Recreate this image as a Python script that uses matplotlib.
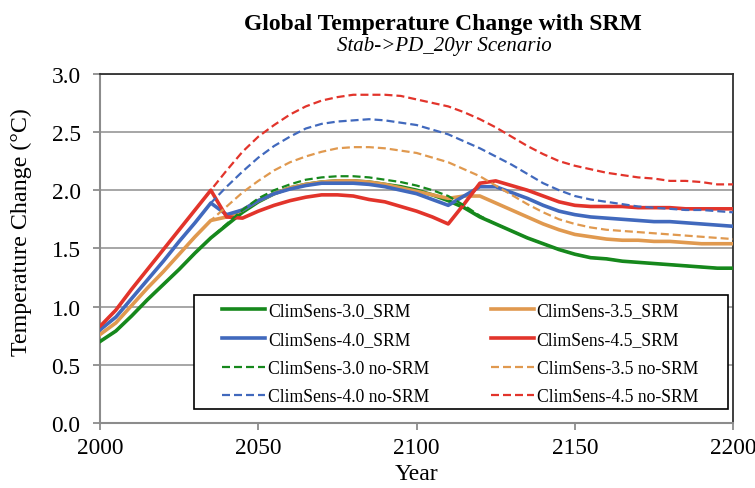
"""Global temperature change with SRM, Stab->PD_20yr scenario."""

import matplotlib

matplotlib.use("Agg")
import matplotlib.pyplot as plt
import numpy as np
from matplotlib.patches import Rectangle

plt.rcParams["font.family"] = ["Liberation Serif", "DejaVu Serif"]

years = np.arange(2000, 2201, 5)

cs30_srm = [0.70, 0.79, 0.92, 1.06, 1.19, 1.32, 1.46, 1.59, 1.70, 1.81,
            1.90, 1.97, 2.02, 2.05, 2.07, 2.08, 2.08, 2.07, 2.05, 2.03,
            2.00, 1.96, 1.91, 1.85, 1.77, 1.71, 1.65, 1.59, 1.54, 1.49,
            1.45, 1.42, 1.41, 1.39, 1.38, 1.37, 1.36, 1.35, 1.34, 1.33, 1.33]
cs35_srm = [0.76, 0.86, 1.01, 1.16, 1.30, 1.45, 1.60, 1.74, 1.77, 1.83,
            1.91, 1.97, 2.02, 2.05, 2.07, 2.08, 2.08, 2.07, 2.05, 2.02,
            1.99, 1.96, 1.93, 1.95, 1.95, 1.89, 1.83, 1.77, 1.71, 1.66,
            1.62, 1.60, 1.58, 1.57, 1.57, 1.56, 1.56, 1.55, 1.54, 1.54, 1.54]
cs40_srm = [0.80, 0.91, 1.07, 1.23, 1.39, 1.56, 1.72, 1.89, 1.79, 1.83,
            1.91, 1.97, 2.01, 2.04, 2.06, 2.06, 2.06, 2.05, 2.03, 2.00,
            1.97, 1.92, 1.87, 1.95, 2.03, 2.03, 1.98, 1.93, 1.87, 1.82,
            1.79, 1.77, 1.76, 1.75, 1.74, 1.73, 1.73, 1.72, 1.71, 1.70, 1.69]
cs45_srm = [0.83, 0.97, 1.15, 1.32, 1.49, 1.66, 1.83, 2.00, 1.77, 1.76,
            1.82, 1.87, 1.91, 1.94, 1.96, 1.96, 1.95, 1.92, 1.90, 1.86,
            1.82, 1.77, 1.71, 1.88, 2.06, 2.08, 2.04, 2.00, 1.95, 1.90,
            1.87, 1.86, 1.86, 1.86, 1.85, 1.85, 1.85, 1.84, 1.84, 1.84, 1.84]

cs30_nosrm = [0.70, 0.79, 0.92, 1.06, 1.19, 1.32, 1.46, 1.59, 1.71, 1.83,
              1.93, 2.00, 2.05, 2.09, 2.11, 2.12, 2.12, 2.11, 2.09, 2.07,
              2.04, 2.00, 1.95, 1.87, 1.78, 1.71, 1.65, 1.59, 1.54, 1.49,
              1.45, 1.42, 1.41, 1.39, 1.38, 1.37, 1.36, 1.35, 1.34, 1.33, 1.33]
cs35_nosrm = [0.76, 0.86, 1.01, 1.16, 1.30, 1.45, 1.60, 1.74, 1.86, 1.98,
              2.08, 2.17, 2.24, 2.29, 2.33, 2.36, 2.37, 2.37, 2.36, 2.34,
              2.32, 2.28, 2.24, 2.18, 2.12, 2.04, 1.96, 1.88, 1.81, 1.75,
              1.71, 1.68, 1.66, 1.65, 1.64, 1.63, 1.62, 1.61, 1.60, 1.59, 1.58]
cs40_nosrm = [0.80, 0.91, 1.07, 1.23, 1.39, 1.56, 1.72, 1.89, 2.03, 2.16,
              2.28, 2.38, 2.46, 2.53, 2.57, 2.59, 2.60, 2.61, 2.60, 2.58,
              2.56, 2.52, 2.48, 2.42, 2.36, 2.29, 2.22, 2.14, 2.06, 2.00,
              1.95, 1.92, 1.90, 1.88, 1.86, 1.85, 1.84, 1.83, 1.83, 1.82, 1.81]
cs45_nosrm = [0.83, 0.97, 1.15, 1.32, 1.49, 1.66, 1.83, 2.00, 2.17, 2.33,
              2.46, 2.56, 2.65, 2.72, 2.77, 2.80, 2.82, 2.82, 2.82, 2.81,
              2.78, 2.75, 2.72, 2.67, 2.61, 2.54, 2.46, 2.38, 2.31, 2.25,
              2.21, 2.18, 2.15, 2.13, 2.11, 2.10, 2.08, 2.08, 2.07, 2.05, 2.05]

GREEN = "#16881c"
ORANGE = "#e0994f"
BLUE = "#4169bd"
RED = "#e2342b"

fig = plt.figure(figsize=(7.55, 4.89), dpi=100)
ax = fig.add_axes([0.1325, 0.133, 0.8385, 0.714])

solid = [
    (cs30_srm, GREEN, "ClimSens-3.0_SRM"),
    (cs35_srm, ORANGE, "ClimSens-3.5_SRM"),
    (cs40_srm, BLUE, "ClimSens-4.0_SRM"),
    (cs45_srm, RED, "ClimSens-4.5_SRM"),
]
dashed = [
    (cs30_nosrm, GREEN, "ClimSens-3.0 no-SRM"),
    (cs35_nosrm, ORANGE, "ClimSens-3.5 no-SRM"),
    (cs40_nosrm, BLUE, "ClimSens-4.0 no-SRM"),
    (cs45_nosrm, RED, "ClimSens-4.5 no-SRM"),
]

handles = {}
for vals, color, label in solid:
    (h,) = ax.plot(years, vals, color=color, lw=2.6, label=label,
                   solid_joinstyle="round", zorder=3)
    handles[label] = h
for vals, color, label in dashed:
    (h,) = ax.plot(years, vals, color=color, lw=1.6, label=label,
                   dashes=(3.6, 1.8), zorder=4)
    handles[label] = h

ax.set_xlim(2000, 2200)
ax.set_ylim(0, 3.0)
ax.set_xticks(np.arange(2000, 2201, 50))
ax.set_yticks(np.arange(0, 3.01, 0.5))
ax.yaxis.set_major_formatter(matplotlib.ticker.FormatStrFormatter("%.1f"))
ax.grid(axis="y", color="#a6a6a6", lw=1.4)
ax.set_axisbelow(True)
ax.tick_params(axis="both", direction="out", length=5, width=1.3,
               color="#8c8c8c", labelsize=16.8)
ax.tick_params(axis="y", pad=9)
ax.tick_params(axis="x", pad=5)
for side in ("left", "bottom"):
    ax.spines[side].set_color("#8c8c8c")
    ax.spines[side].set_linewidth(1.5)
for side in ("top", "right"):
    ax.spines[side].set_color("#303030")
    ax.spines[side].set_linewidth(1.3)

ax.set_xlabel("Year", fontsize=17, labelpad=4)
ax.set_ylabel("Temperature Change (°C)", fontsize=17.3)
ax.yaxis.set_label_coords(-0.107, 0.55)

fig.text(0.586, 0.939, "Global Temperature Change with SRM", ha="center",
         va="baseline", fontsize=17, fontweight="bold")
fig.text(0.588, 0.896, "Stab->PD_20yr Scenario", ha="center",
         va="baseline", fontsize=15, style="italic")

# legend box drawn separately so the entries can sit inset like the original
ax.add_patch(Rectangle((0.1485, 0.040), 0.8436, 0.327, transform=ax.transAxes,
                       facecolor="white", edgecolor="black", lw=1.2, zorder=5))
order = ["ClimSens-3.0_SRM", "ClimSens-4.0_SRM", "ClimSens-3.0 no-SRM",
         "ClimSens-4.0 no-SRM", "ClimSens-3.5_SRM", "ClimSens-4.5_SRM",
         "ClimSens-3.5 no-SRM", "ClimSens-4.5 no-SRM"]
leg = ax.legend([handles[k] for k in order], order, ncol=2, fontsize=12.7,
                loc="upper left", bbox_to_anchor=(0.1927, 0.345),
                handlelength=2.45, handletextpad=0.15, columnspacing=3.5,
                labelspacing=0.66, borderpad=0, borderaxespad=0,
                frameon=False)
leg.set_zorder(6)

fig.savefig("out.png", dpi=100)
